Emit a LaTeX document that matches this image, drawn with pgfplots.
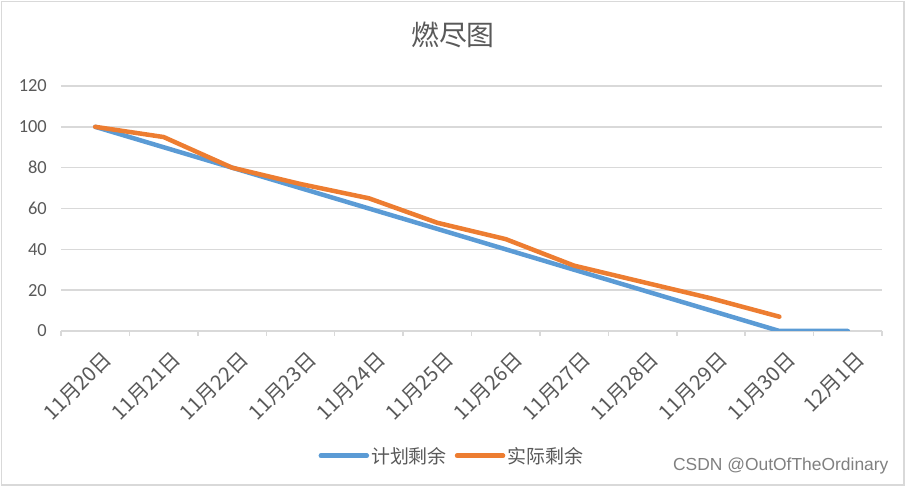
\documentclass[border=0pt]{standalone}
\usepackage{fontspec}
\setmainfont{Carlito}
\newfontfamily\cjk{Noto Sans CJK SC}
\newfontfamily\wm{Liberation Sans}
\usepackage{pgfplots}
\pgfplotsset{compat=1.18}
\definecolor{pblue}{HTML}{5B9BD5}
\definecolor{porange}{HTML}{ED7D31}
\definecolor{gridgray}{HTML}{D9D9D9}
\definecolor{txtgray}{HTML}{595959}
\begin{document}
\begin{tikzpicture}[x=1bp,y=1bp]
\useasboundingbox (0,0) rectangle (907,487);
\draw[gridgray, line width=1.2bp] (1.5,2) rectangle (904,485.5);
\node[font=\cjk\fontsize{28}{32}\selectfont, text=txtgray] at (453,452) {燃尽图};
\node[font=\wm\fontsize{17.5}{20}\selectfont, text=black!50, anchor=east] at (892,21) {CSDN @OutOfTheOrdinary};
\begin{axis}[
  at={(61bp,156bp)}, anchor=south west,
  scale only axis, width=821bp, height=245bp,
  xmin=-0.5, xmax=11.5, ymin=0, ymax=120,
  ytick={0,20,...,120},
  xtick={0,...,11},
  xticklabels={11月20日,11月21日,11月22日,11月23日,11月24日,11月25日,11月26日,11月27日,11月28日,11月29日,11月30日,12月1日},
  minor xtick={-0.5,0.5,...,11.5},
  xtick pos=bottom, ytick pos=left,
  tick align=outside,
  major tick length=0pt, minor tick length=5bp,
  minor tick style={gridgray, line width=1.5bp},
  axis line style={draw=none},
  ymajorgrids, grid style={gridgray, line width=1.5bp},
  /pgf/number format/assume math mode=true,
  yticklabel style={font=\fontsize{18.5}{22}\selectfont, text=txtgray, anchor=east, inner sep=0pt, xshift=-14bp},
  xticklabel style={font=\cjk\fontsize{20.5}{24}\selectfont, text=txtgray, xshift=6.5bp, yshift=-18bp, rotate=45, anchor=north east, inner sep=0pt},
  legend columns=2,
  legend style={draw=none, fill=none, at={(0.476,-0.509)}, anchor=center,
    font=\cjk\fontsize{19}{22}\selectfont, text=txtgray,
    /tikz/every even column/.append style={column sep=6bp}},
  legend image code/.code={\draw[#1, line cap=round] (0bp,0bp) -- (46bp,0bp);},
  every axis plot/.append style={line width=4.5bp, line join=round, line cap=round},
]
\addplot[pblue] coordinates {(0,100)(1,90)(2,80)(3,70)(4,60)(5,50)(6,40)(7,30)(8,20)(9,10)(10,0)(11,0)};
\addlegendentry{计划剩余}
\addplot[porange] coordinates {(0,100)(1,95)(2,80)(3,72)(4,65)(5,53)(6,45)(7,32)(8,24)(9,16)(10,7)};
\addlegendentry{实际剩余}
\end{axis}
\end{tikzpicture}
\end{document}
